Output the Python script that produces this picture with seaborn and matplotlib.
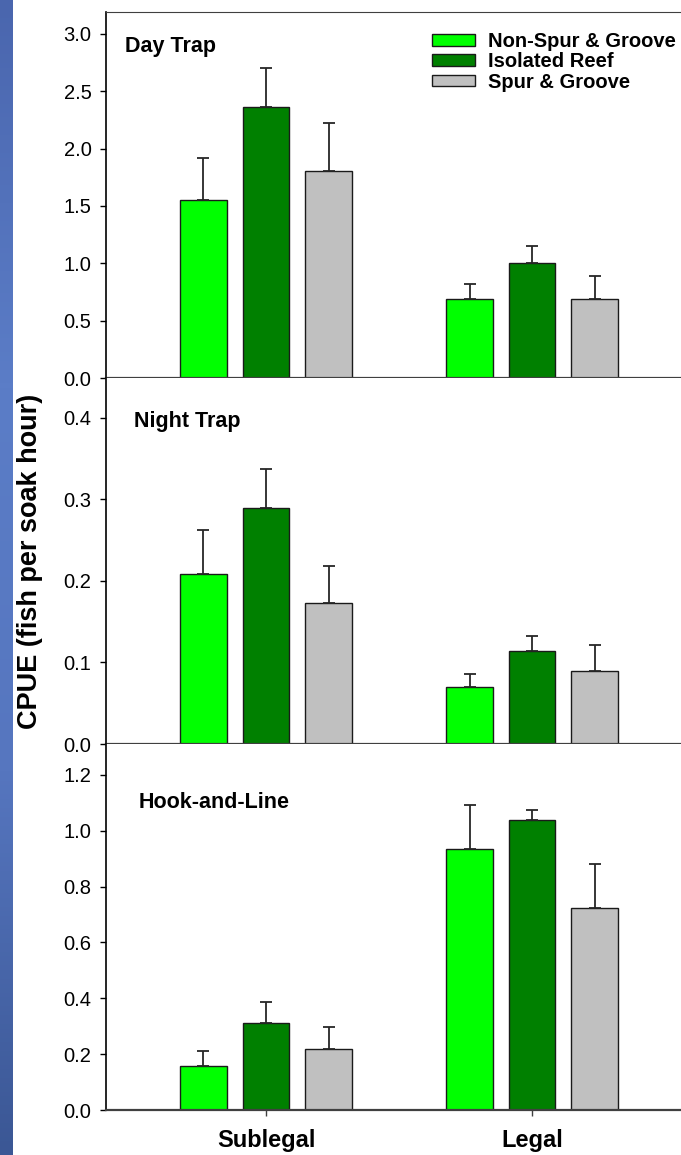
import numpy as np
import pandas as pd
import seaborn as sns
import matplotlib.pyplot as plt
from matplotlib.colors import LinearSegmentedColormap

# categories
sizes = ['Sublegal', 'Legal']
habitats = ['Non-Spur & Groove', 'Isolated Reef', 'Spur & Groove']
colors = ['#00ff00', '#008000', '#c0c0c0']

# Day trap CPUE (mean, +SE) for Sublegal / Legal
day_nsg = [1.55, 0.69]
day_ir = [2.36, 1.00]
day_sg = [1.805, 0.69]
day_nsg_err = [0.37, 0.13]
day_ir_err = [0.34, 0.15]
day_sg_err = [0.42, 0.20]

# Night trap
night_nsg = [0.208, 0.070]
night_ir = [0.289, 0.114]
night_sg = [0.173, 0.090]
night_nsg_err = [0.054, 0.016]
night_ir_err = [0.048, 0.019]
night_sg_err = [0.045, 0.032]

# Hook-and-line
hook_nsg = [0.158, 0.934]
hook_ir = [0.313, 1.040]
hook_sg = [0.218, 0.725]
hook_nsg_err = [0.054, 0.158]
hook_ir_err = [0.074, 0.034]
hook_sg_err = [0.080, 0.156]

panels = [
    ('Day Trap', [day_nsg, day_ir, day_sg], [day_nsg_err, day_ir_err, day_sg_err],
     3.19, np.arange(0, 3.01, 0.5), (0.033, 0.907)),
    ('Night Trap', [night_nsg, night_ir, night_sg], [night_nsg_err, night_ir_err, night_sg_err],
     0.449, np.arange(0, 0.401, 0.1), (0.049, 0.882)),
    ('Hook-and-Line', [hook_nsg, hook_ir, hook_sg], [hook_nsg_err, hook_ir_err, hook_sg_err],
     1.311, np.arange(0, 1.21, 0.2), (0.056, 0.839)),
]

sns.set_style('ticks')
plt.rcParams['font.family'] = ['Liberation Sans', 'DejaVu Sans']
plt.rcParams['text.color'] = 'black'
plt.rcParams['xtick.color'] = 'black'
plt.rcParams['ytick.color'] = 'black'

W, H = 681, 1155
fig = plt.figure(figsize=(W / 100, H / 100), dpi=100)

# blue strip on the left edge
strip = fig.add_axes([0, 0, 13 / W, 1])
cmap = LinearSegmentedColormap.from_list('strip', ['#4a66ae', '#5b7dc7', '#5676bf', '#3b5795'])
strip.imshow(np.linspace(0, 1, 256).reshape(-1, 1), aspect='auto', cmap=cmap)
strip.axis('off')

left = 106 / W
tops = [12, 378, 744]
ph = 366

for i, (title, means, errs, ytop, yticks, tpos) in enumerate(panels):
    bottom = (H - tops[i] - ph) / H
    ax = fig.add_axes([left, bottom, 1 - left, ph / H])

    rows = []
    for h, m in zip(habitats, means):
        for s, v in zip(sizes, m):
            rows.append({'size': s, 'habitat': h, 'cpue': v})
    df = pd.DataFrame(rows)

    sns.barplot(data=df, x='size', y='cpue', hue='habitat', order=sizes,
                hue_order=habitats, palette=colors, saturation=1, width=0.705,
                gap=0.25, errorbar=None, edgecolor='#1a1a1a', linewidth=1.0,
                legend=(i == 0), ax=ax)

    # upward-only error bars placed on the seaborn bars
    for cont, e in zip(ax.containers, errs):
        xs = [b.get_x() + b.get_width() / 2 for b in cont]
        ys = [b.get_height() for b in cont]
        ax.errorbar(xs, ys, yerr=[np.zeros(len(e)), e], fmt='none',
                    ecolor='#262626', elinewidth=1.3, capsize=4.4, capthick=1.3, zorder=1)

    ax.set_xlim(-0.6015, 1.56)
    ax.set_ylim(0, ytop)
    ax.set_yticks(yticks)
    ax.set_yticklabels([f'{t:.1f}' for t in yticks], fontsize=14.5)
    ax.set_xlabel('')
    ax.set_ylabel('')
    ax.text(tpos[0], tpos[1], title, transform=ax.transAxes, fontsize=15.5,
            fontweight='bold', va='center', ha='left')

    ax.spines['right'].set_visible(False)
    ax.spines['top'].set_visible(i == 0)
    ax.spines['top'].set_color('#404040')
    ax.spines['bottom'].set_color('#404040')
    ax.spines['bottom'].set_linewidth(1.6)
    ax.spines['left'].set_color('black')
    ax.spines['left'].set_linewidth(1.2)
    ax.tick_params(axis='y', length=4.5, width=1, pad=6)
    if i == 0:
        ax.tick_params(axis='x', length=0, labelbottom=False)
        ax.legend(loc='upper right', bbox_to_anchor=(1.012, 0.978), frameon=False,
                  prop={'weight': 'bold', 'size': 14.5}, handlelength=2.15,
                  handleheight=0.5, labelspacing=0.06, handletextpad=0.65,
                  borderaxespad=0.2)
    elif i == 1:
        ax.tick_params(axis='x', length=4, width=1, color='#404040', labelbottom=False)
    else:
        ax.tick_params(axis='x', length=4, width=1, color='#404040', pad=10)
        for lab in ax.get_xticklabels():
            lab.set_fontsize(17)
            lab.set_fontweight('bold')

fig.text(30 / W, (H - 561) / H, 'CPUE (fish per soak hour)', rotation=90,
         fontsize=19.5, fontweight='bold', ha='center', va='center')

fig.savefig('out.png', dpi=100)
